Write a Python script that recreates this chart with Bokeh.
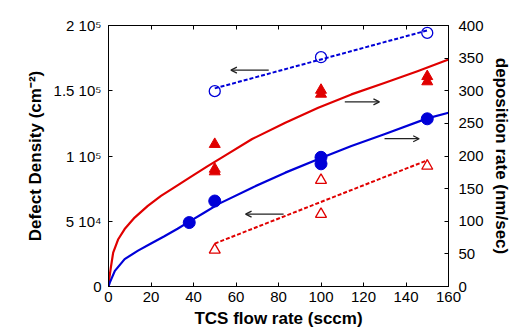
from bokeh.plotting import figure
from bokeh.models import Range1d, LinearAxis, FixedTicker, Arrow, OpenHead
from bokeh.embed import file_html
from bokeh.resources import INLINE

# ---------------- data ----------------
# Left axis: defect density (cm^-2)
open_circle_x = [50, 100, 150]
open_circle_y = [149700, 175700, 194300]
blue_dash_x = [50, 150]
blue_dash_y = [151800, 196200]

open_tri_x = [50, 100, 100, 150]
open_tri_y = [28000, 81400, 55400, 92300]
red_dash_x = [50, 150]
red_dash_y = [32900, 96700]

# Right axis: deposition rate (nm/sec)
filled_circle_x = [38, 50, 100, 100, 150]
filled_circle_y = [98, 131, 198, 188, 257]
filled_tri_x = [50, 50, 50, 100, 100, 150, 150]
filled_tri_y = [218, 180, 176, 301, 295, 322, 314]

red_curve_x = [0, 0.5, 1.1, 2.2, 4.5, 7.6, 12.3, 18.5, 24.7, 31, 38.7, 46.5, 55,
               67.6, 83.2, 98.7, 114.3, 129.8, 145.4, 160]
red_curve_y = [0, 15, 29, 52, 72, 88, 105.6, 123.5, 138.8, 152, 168, 184, 201,
               226, 251, 274, 294.4, 312, 330, 348]
blue_curve_x = [0, 0.6, 3, 7.6, 13.9, 20, 26.3, 32.5, 38, 45, 52.1, 67.6, 83.2,
                100.3, 114.3, 129.8, 150, 160]
blue_curve_y = [0, 6, 24, 42, 55, 66, 77, 88.5, 99.5, 113, 127, 151.5, 174.5,
                197.4, 215.3, 233.2, 257.7, 266.3]

# annotation arrows: (x_start, x_end, y, axis)
arrows = [
    (75.4, 57.6, 165800, "default"),
    (111.2, 127.5, 283, "right"),
    (129.9, 146.2, 226.5, "right"),
    (82.4, 64.5, 55400, "default"),
]

left_ticks = [0, 50000, 100000, 150000, 200000]
left_tick_labels = ["0", "5 10\u2074", "1 10\u2075", "1.5 10\u2075", "2 10\u2075"]
right_ticks = [0, 50, 100, 150, 200, 250, 300, 350, 400]
x_ticks = [0, 20, 40, 60, 80, 100, 120, 140, 160]

RED = "#e00000"
BLUE = "#0000d8"
FONT = "Liberation Sans"

p = figure(width=513, height=333, output_backend="svg", toolbar_location=None,
           x_range=Range1d(0, 160), y_range=Range1d(0, 200000),
           min_border_left=108, min_border_right=62, min_border_top=25, min_border_bottom=47,
           x_axis_location="below")
p.extra_y_ranges = {"right": Range1d(0, 400)}
p.grid.visible = False
p.outline_line_color = "black"
p.outline_line_width = 1
p.background_fill_color = "white"
p.border_fill_color = "white"

def style_axis(ax):
    ax.major_tick_in = 4
    ax.major_tick_out = 0
    ax.minor_tick_in = 0
    ax.minor_tick_out = 0
    ax.axis_line_color = "black"
    ax.major_tick_line_color = "black"
    ax.major_label_text_font = FONT
    ax.major_label_text_font_size = "15px"
    ax.major_label_text_color = "black"
    ax.axis_label_text_font = FONT
    ax.axis_label_text_font_size = "17px"
    ax.axis_label_text_font_style = "bold"
    ax.axis_label_text_color = "black"

# bottom axis
xa = p.xaxis[0]
xa.ticker = FixedTicker(ticks=x_ticks)
style_axis(xa)
xa.major_label_standoff = 5
xa.axis_label = "TCS flow rate (sccm)"
xa.axis_label_standoff = 4

# left axis
ya = p.yaxis[0]
ya.ticker = FixedTicker(ticks=left_ticks)
ya.major_label_overrides = {t: l for t, l in zip(left_ticks, left_tick_labels)}
style_axis(ya)
ya.major_label_standoff = 7
ya.axis_label = "Defect Density (cm\u207b\u00b2)"
ya.axis_label_standoff = 6

# right axis
ra = LinearAxis(y_range_name="right", ticker=FixedTicker(ticks=right_ticks),
                axis_label="deposition rate (nm/sec)")
style_axis(ra)
ra.major_label_standoff = 10
ra.axis_label_standoff = 5
p.add_layout(ra, "right")

# top axis (ticks only, no labels)
ta = LinearAxis(ticker=FixedTicker(ticks=x_ticks))
style_axis(ta)
ta.major_label_overrides = {t: "" for t in x_ticks}
ta.major_label_standoff = 0
p.add_layout(ta, "above")

# curves
p.line(red_curve_x, red_curve_y, y_range_name="right", line_color=RED, line_width=2.2,
       line_join="round")
p.line(blue_curve_x, blue_curve_y, y_range_name="right", line_color=BLUE, line_width=2.2,
       line_join="round")

# dashed fits
p.line(blue_dash_x, blue_dash_y, line_color=BLUE, line_width=2, line_dash="4 2")
p.line(red_dash_x, red_dash_y, line_color=RED, line_width=2, line_dash="4 2")

# markers
p.scatter(open_circle_x, open_circle_y, marker="circle", size=11, fill_color=None,
          line_color=BLUE, line_width=1.3)
p.scatter(open_tri_x, open_tri_y, marker="triangle", size=11, fill_color=None,
          line_color=RED, line_width=1.3)
p.scatter(filled_circle_x, filled_circle_y, y_range_name="right", marker="circle", size=12,
          fill_color=BLUE, line_color=BLUE)
p.scatter(filled_tri_x, filled_tri_y, y_range_name="right", marker="triangle", size=11,
          fill_color=RED, line_color=RED)

# arrows
for xs, xe, yv, rn in arrows:
    p.add_layout(Arrow(end=OpenHead(size=6, line_color="#222222", line_width=1.3),
                       x_start=xs, y_start=yv, x_end=xe, y_end=yv, y_range_name=rn,
                       line_color="#222222", line_width=1.3))

open("out.html", "w").write(file_html(p, INLINE))
